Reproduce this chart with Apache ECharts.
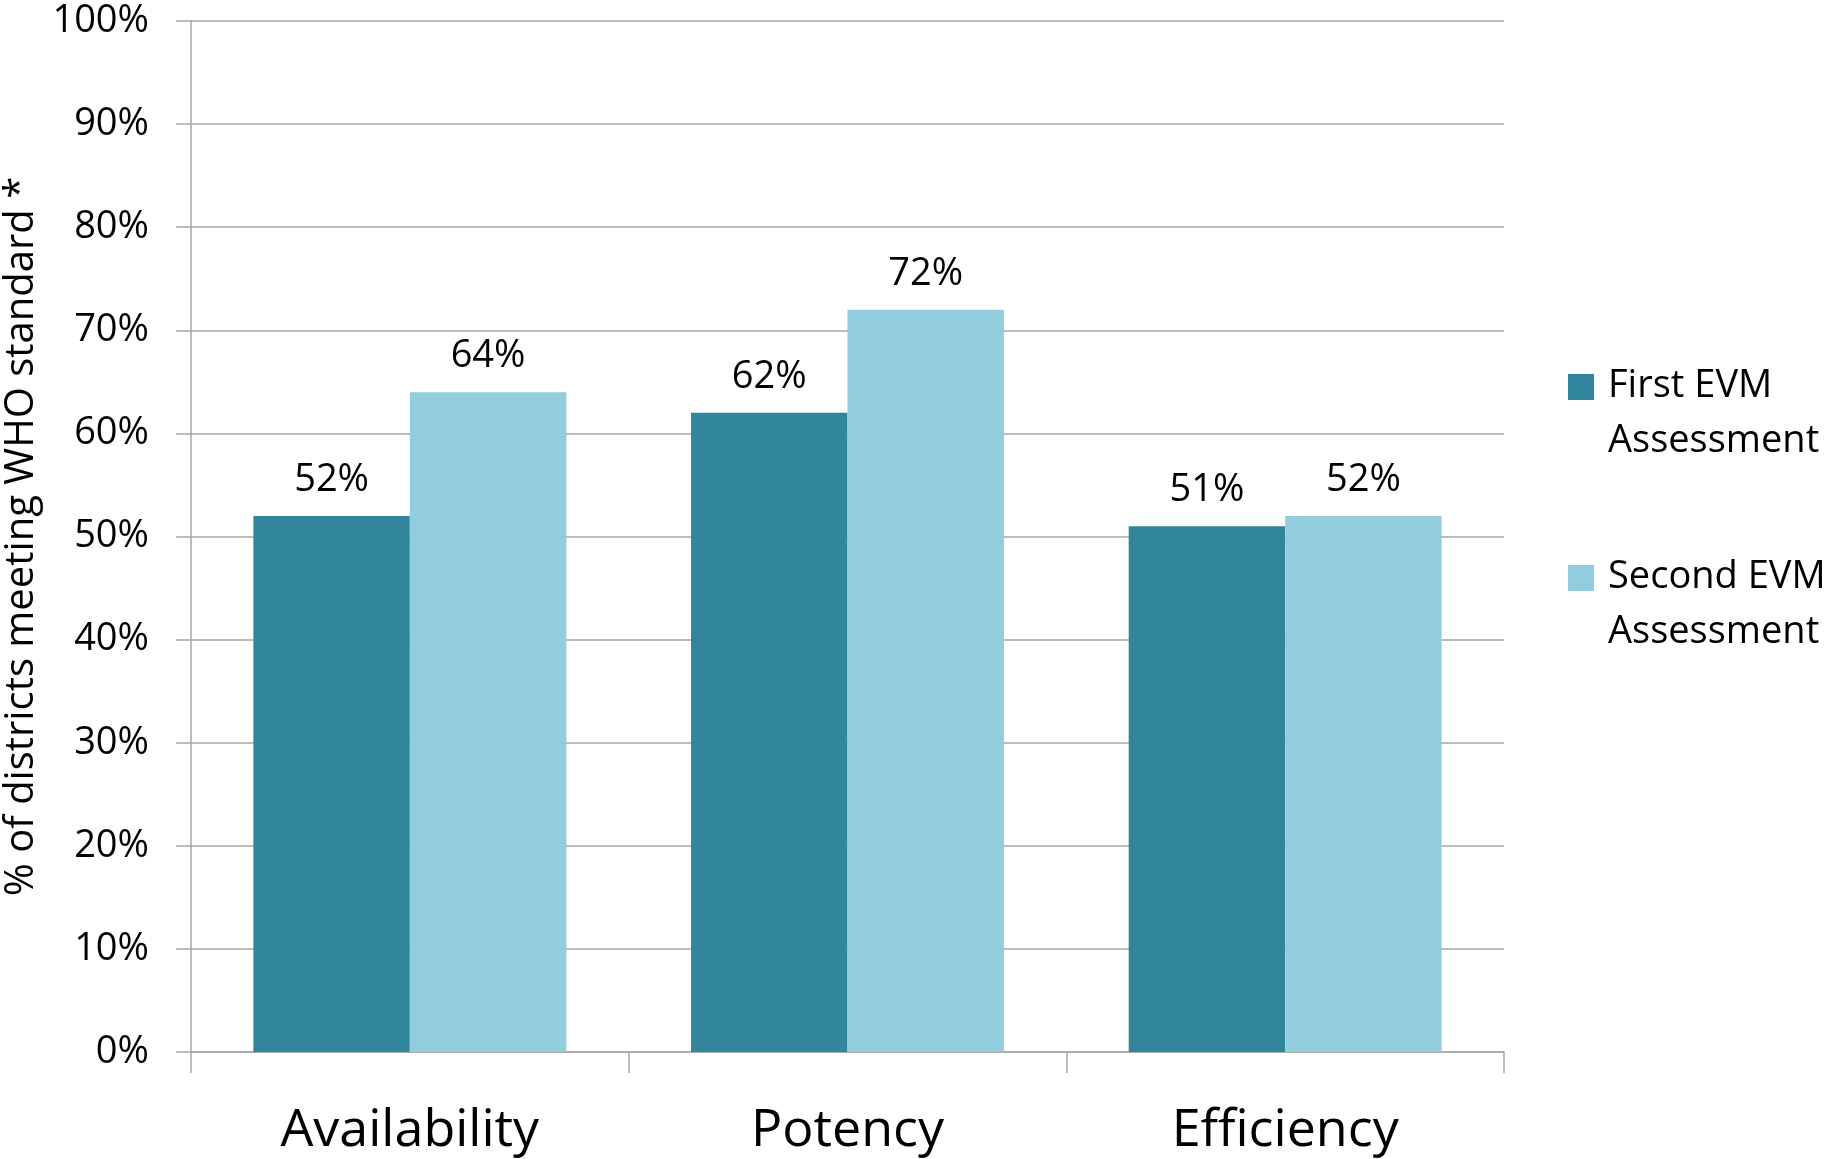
<!DOCTYPE html>
<html>
<head>
<meta charset="utf-8">
<script src="https://cdn.jsdelivr.net/npm/echarts@6/dist/echarts.min.js"></script>
<style>
html,body{margin:0;padding:0;background:#fff;}
#chart{width:1829px;height:1159px;}
</style>
</head>
<body>
<div id="chart"></div>
<script>
const categories = ['Availability', 'Potency', 'Efficiency'];
const firstEVM = [52, 62, 51];
const secondEVM = [64, 72, 52];
const seriesNames = ['First EVM Assessment', 'Second EVM Assessment'];
const yTickMax = 100;
const yTickStep = 10;

const FONT = 'Open Sans';
const chart = echarts.init(document.getElementById('chart'), null, {renderer: 'canvas'});
const legendIcon = 'path://M0,0H26V26H0Z M35,80L35,80';
const option = {
  backgroundColor: '#ffffff',
  animation: false,
  grid: {left: 191, right: 325, top: 21, bottom: 107, containLabel: false, outerBoundsMode: 'none'},
  legend: {
    orient: 'vertical',
    left: 1563,
    top: 354,
    itemWidth: 35,
    itemHeight: 80,
    itemGap: 81,
    icon: legendIcon,
    selectedMode: false,
    formatter: function (name) { return name.replace(' Assessment', '\nAssessment'); },
    textStyle: {fontFamily: FONT, fontSize: 38, lineHeight: 55, color: '#000'}
  },
  xAxis: {
    type: 'category',
    data: categories,
    axisLine: {show: true, lineStyle: {color: '#a6a6a6', width: 1.5}},
    axisTick: {show: true, length: 21, lineStyle: {color: '#a6a6a6', width: 1.5}},
    axisLabel: {fontFamily: FONT, fontSize: 52, color: '#000', margin: 51, lineHeight: 56}
  },
  yAxis: {
    type: 'value',
    min: 0,
    max: yTickMax,
    interval: yTickStep,
    name: '% of districts meeting WHO standard *',
    nameLocation: 'middle',
    nameRotate: 90,
    nameGap: 148,
    nameTextStyle: {fontFamily: FONT, fontSize: 40, color: '#000'},
    axisLine: {show: true, lineStyle: {color: '#a6a6a6', width: 1.5}},
    axisTick: {show: true, length: 15, lineStyle: {color: '#a6a6a6', width: 1.5}},
    splitLine: {show: true, lineStyle: {color: '#a6a6a6', width: 1.5}},
    axisLabel: {fontFamily: FONT, fontSize: 38, color: '#000', margin: 42, formatter: '{value}%'}
  },
  series: [
    {
      name: seriesNames[0],
      type: 'bar',
      data: firstEVM,
      barGap: '0%',
      barCategoryGap: '28.5%',
      itemStyle: {color: '#31859c'},
      label: {show: true, position: 'top', distance: 17, formatter: '{c}%', fontFamily: FONT, fontSize: 38, color: '#000'}
    },
    {
      name: seriesNames[1],
      type: 'bar',
      data: secondEVM,
      barGap: '0%',
      barCategoryGap: '28.5%',
      itemStyle: {color: '#93cddd'},
      label: {show: true, position: 'top', distance: 17, formatter: '{c}%', fontFamily: FONT, fontSize: 38, color: '#000'}
    }
  ]
};
chart.setOption(option);
</script>
</body>
</html>
